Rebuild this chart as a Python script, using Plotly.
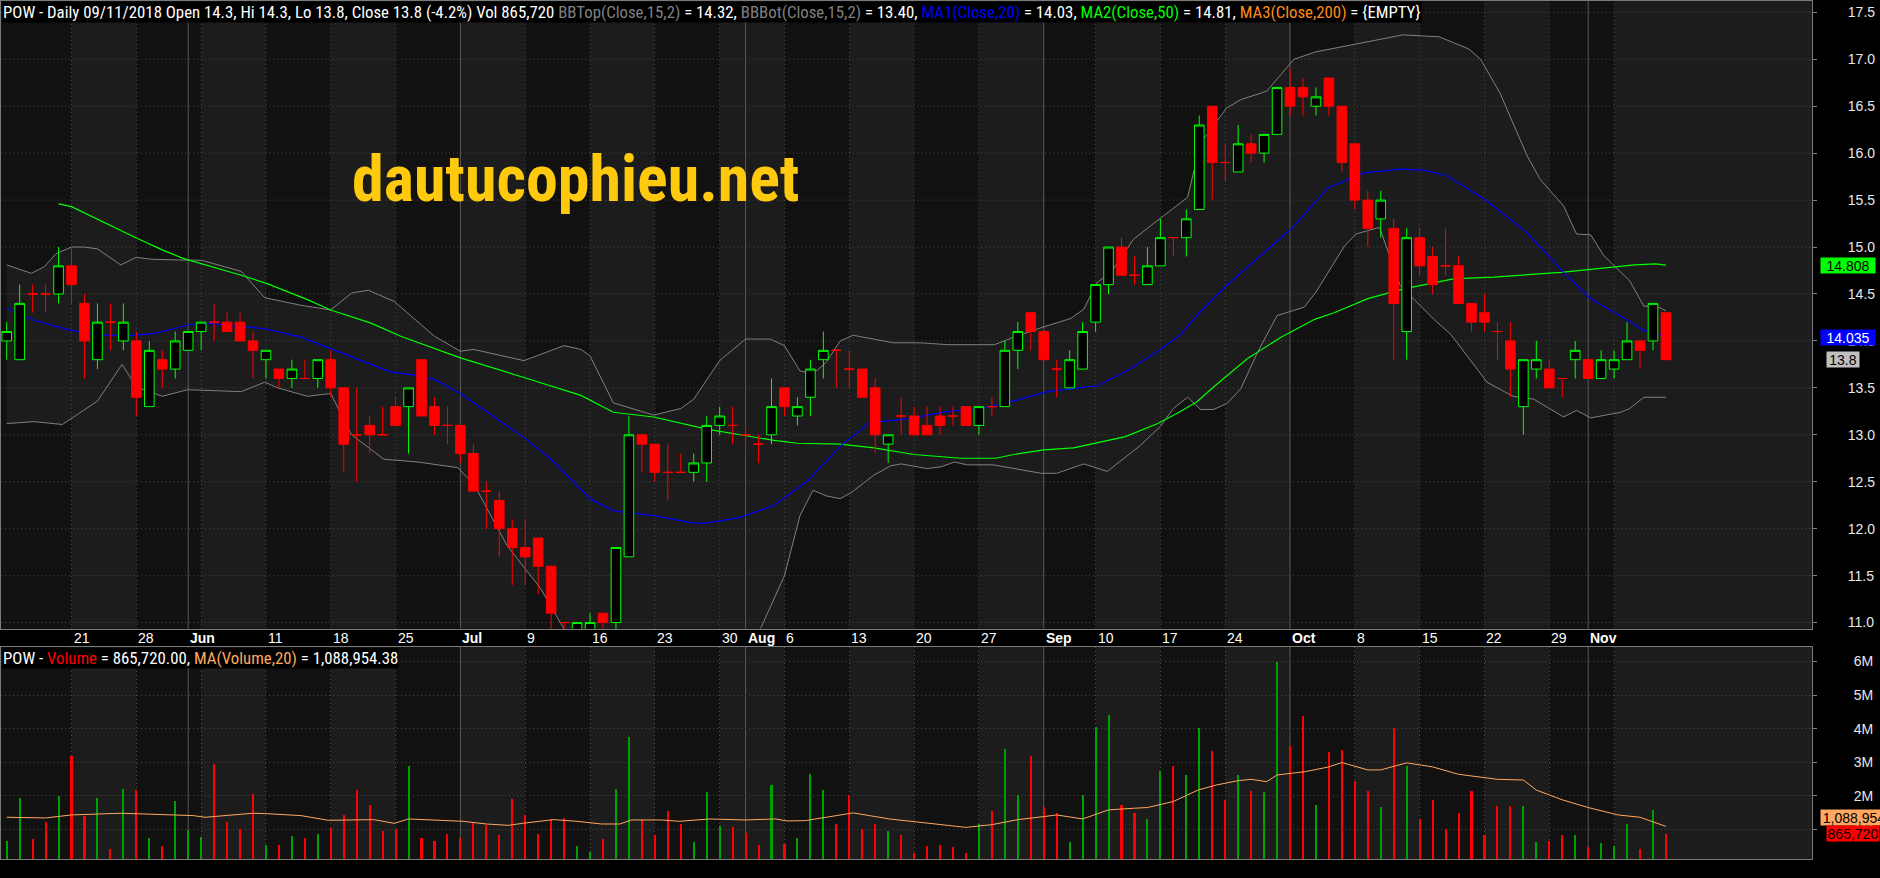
import plotly.graph_objects as go

# ---------------- data ----------------
symbol = "POW"
# candles: index 0 = 14 May 2018 ... index 128 = 09 Nov 2018 (trading days)
opens = [14.0, 13.8, 14.5, 14.5, 14.5, 14.8, 14.4, 13.8, 14.2, 14.0,
         14.0, 13.3, 13.8, 13.7, 13.9, 14.1, 14.2, 14.2, 14.2, 14.0,
         13.8, 13.7, 13.6, 13.6, 13.6, 13.8, 13.5, 13.0, 13.1, 13.0,
         13.3, 13.3, 13.8, 13.3, 13.1, 13.1, 12.8, 12.4, 12.3, 12.0,
         11.8, 11.9, 11.6, 11.0, 10.9, 10.9, 11.1, 11.0, 11.7, 13.0,
         12.9, 12.6, 12.6, 12.6, 12.7, 13.1, 13.1, 13.0, 12.9, 13.0,
         13.5, 13.2, 13.4, 13.8, 13.9, 13.7, 13.7, 13.5, 12.9, 13.2,
         13.2, 13.1, 13.2, 13.2, 13.3, 13.1, 13.3, 13.3, 13.9, 14.3,
         14.1, 13.7, 13.5, 13.7, 14.2, 14.6, 15.0, 14.7, 14.6, 14.8,
         15.1, 15.1, 15.4, 16.5, 15.9, 15.8, 16.1, 16.0, 16.2, 16.7,
         16.7, 16.5, 16.8, 16.5, 16.1, 15.5, 15.3, 15.2, 14.1, 15.1,
         14.9, 14.8, 14.8, 14.4, 14.3, 14.1, 14.0, 13.3, 13.7, 13.7,
         13.6, 13.8, 13.8, 13.6, 13.7, 13.8, 14.0, 14.0, 14.3]
highs = [14.2, 14.6, 14.6, 14.6, 15.0, 15.0, 14.5, 14.4, 14.4, 14.4,
         14.1, 14.0, 13.9, 14.1, 14.1, 14.2, 14.4, 14.3, 14.3, 14.1,
         13.9, 13.7, 13.8, 13.8, 13.8, 13.9, 13.5, 13.5, 13.2, 13.3,
         13.4, 13.5, 13.8, 13.4, 13.3, 13.1, 12.9, 12.5, 12.4, 12.1,
         12.1, 11.9, 11.6, 11.0, 11.0, 11.1, 11.1, 11.8, 13.2, 13.0,
         12.9, 12.9, 12.8, 12.8, 13.2, 13.3, 13.3, 13.1, 13.0, 13.6,
         13.5, 13.4, 13.8, 14.1, 13.9, 13.9, 13.7, 13.6, 13.0, 13.4,
         13.3, 13.3, 13.3, 13.3, 13.3, 13.3, 13.4, 14.0, 14.2, 14.3,
         14.1, 13.8, 13.9, 14.2, 14.6, 15.0, 15.1, 14.9, 15.0, 15.3,
         15.1, 15.4, 16.4, 16.5, 16.1, 16.3, 16.2, 16.2, 16.7, 16.9,
         16.8, 16.7, 16.8, 16.5, 16.1, 15.6, 15.6, 15.3, 15.2, 15.2,
         15.0, 15.2, 14.9, 14.4, 14.5, 14.2, 14.2, 13.8, 14.0, 13.8,
         13.6, 14.0, 13.8, 13.9, 13.9, 14.2, 14.0, 14.4, 14.3]
lows = [13.8, 13.8, 14.3, 14.3, 14.4, 14.4, 13.6, 13.7, 13.9, 13.9,
        13.2, 13.3, 13.5, 13.6, 13.9, 13.9, 14.0, 14.1, 14.0, 13.6,
        13.6, 13.5, 13.5, 13.6, 13.5, 13.4, 12.6, 12.5, 12.8, 13.0,
        13.1, 12.8, 13.2, 13.0, 12.9, 12.7, 12.4, 12.0, 11.7, 11.4,
        11.4, 11.3, 10.9, 10.9, 10.9, 10.9, 10.9, 10.9, 11.7, 12.6,
        12.5, 12.3, 12.6, 12.5, 12.5, 13.0, 12.9, 12.8, 12.7, 12.9,
        13.2, 13.1, 13.2, 13.6, 13.5, 13.5, 13.4, 12.8, 12.7, 13.0,
        13.0, 13.0, 13.0, 13.1, 13.1, 13.0, 13.2, 13.3, 13.7, 13.9,
        13.8, 13.4, 13.5, 13.7, 14.1, 14.5, 14.7, 14.6, 14.6, 14.8,
        14.9, 14.9, 15.4, 15.5, 15.7, 15.8, 15.9, 15.9, 16.2, 16.4,
        16.4, 16.4, 16.4, 15.8, 15.4, 15.0, 15.1, 13.8, 13.8, 14.7,
        14.5, 14.7, 14.4, 14.1, 14.1, 13.8, 13.4, 13.0, 13.6, 13.5,
        13.4, 13.6, 13.6, 13.6, 13.6, 13.8, 13.7, 13.9, 13.8]
closes = [14.1, 14.4, 14.5, 14.5, 14.8, 14.6, 14.0, 14.2, 14.2, 14.2,
          13.4, 13.9, 13.7, 14.0, 14.1, 14.2, 14.2, 14.1, 14.0, 13.9,
          13.9, 13.6, 13.7, 13.6, 13.8, 13.5, 12.9, 13.0, 13.0, 13.0,
          13.1, 13.5, 13.2, 13.1, 13.1, 12.8, 12.4, 12.4, 12.0, 11.8,
          11.7, 11.6, 11.1, 11.0, 11.0, 11.0, 11.0, 11.8, 13.0, 12.9,
          12.6, 12.6, 12.6, 12.7, 13.1, 13.2, 13.1, 13.0, 12.9, 13.3,
          13.3, 13.3, 13.7, 13.9, 13.9, 13.7, 13.4, 13.0, 13.0, 13.2,
          13.0, 13.0, 13.1, 13.2, 13.1, 13.3, 13.3, 13.9, 14.1, 14.1,
          13.8, 13.7, 13.8, 14.1, 14.6, 15.0, 14.7, 14.7, 14.8, 15.1,
          15.1, 15.3, 16.3, 15.9, 15.9, 16.1, 16.0, 16.2, 16.7, 16.5,
          16.6, 16.6, 16.5, 15.9, 15.5, 15.2, 15.5, 14.4, 15.1, 14.8,
          14.6, 14.8, 14.4, 14.2, 14.2, 14.1, 13.7, 13.8, 13.8, 13.5,
          13.6, 13.9, 13.6, 13.8, 13.8, 14.0, 13.9, 14.4, 13.8]
# volume, millions of shares
volumes = [0.66, 1.93, 0.72, 1.22, 1.99, 3.18, 1.41, 1.93, 0.43, 2.22,
           2.19, 0.74, 0.51, 1.85, 0.98, 0.78, 2.94, 1.22, 1.01, 2.05,
           0.54, 0.54, 0.80, 0.74, 0.86, 1.04, 1.42, 2.19, 1.72, 0.96,
           1.02, 2.88, 0.74, 0.65, 0.86, 0.74, 1.22, 1.13, 0.83, 1.90,
           1.43, 0.86, 1.31, 1.34, 0.51, 0.33, 0.71, 2.22, 3.77, 1.29,
           0.84, 1.55, 1.16, 0.62, 2.12, 1.10, 1.07, 0.90, 0.54, 2.34,
           0.57, 0.74, 2.65, 2.19, 1.16, 2.02, 1.01, 1.16, 0.95, 0.83,
           0.30, 0.51, 0.54, 0.48, 0.30, 1.16, 1.54, 3.41, 2.02, 3.20,
           1.66, 1.48, 0.62, 2.02, 4.06, 4.42, 1.72, 1.48, 1.31, 2.73,
           2.88, 2.64, 4.03, 3.35, 1.87, 2.64, 2.14, 2.11, 5.99, 3.50,
           4.39, 1.72, 3.32, 3.38, 2.46, 2.16, 1.66, 4.03, 2.88, 1.31,
           1.87, 1.01, 1.48, 2.14, 0.83, 1.69, 1.69, 1.69, 0.62, 0.65,
           0.83, 0.83, 0.48, 0.60, 0.51, 1.16, 0.42, 1.57, 0.86572]

# indicator lines, read at points along the bar index
ma20_x = [0, 2.1, 4.7, 7.3, 9.8, 11.4, 12.9, 14, 15.3, 17.8, 19.9, 22.7, 25.3, 28, 29.6, 31.7,
          33, 35, 37.3, 39.9, 42, 45, 46.8, 49.9, 53, 54, 56.6, 59.2, 61.8, 64.3, 66.6, 69.5,
          72.6, 75.2, 77.4, 80.3, 83.3, 84.1, 86.4, 88.7, 90.5, 92, 94.1, 96.7, 99.3, 101.9,
          104.7, 107.5, 109.3, 111.1, 114.2, 117.3, 120.1, 122.2, 124.2, 126.3, 127, 128]
ma20_y = [14.35, 14.22, 14.12, 14.06, 14.06, 14.08, 14.13, 14.17, 14.19, 14.16, 14.13, 14.04,
          13.90, 13.75, 13.67, 13.63, 13.59, 13.44, 13.22, 12.97, 12.74, 12.32, 12.19, 12.14,
          12.06, 12.06, 12.12, 12.25, 12.51, 12.88, 13.13, 13.17, 13.25, 13.28, 13.35, 13.46,
          13.51, 13.52, 13.68, 13.88, 14.06, 14.30, 14.59, 14.91, 15.22, 15.63, 15.79, 15.83,
          15.82, 15.76, 15.49, 15.15, 14.73, 14.45, 14.29, 14.11, 14.10, 14.0349]
ma50_x = [4, 5, 9.8, 12, 13.6, 18.1, 20.1, 23.2, 25, 28.1, 30.4, 33.5, 35, 39.9, 44.3, 46.8,
          49.9, 54, 59.2, 61, 64.3, 66.9, 70, 73.6, 76.3, 77.7, 80, 82.3, 84, 86.3, 88.8, 90.3,
          91.8, 93.1, 95.7, 98.3, 100.9, 102.4, 105, 107.6, 111.6, 114.7, 119.9, 123, 125.6,
          127.2, 128]
ma50_y = [15.46, 15.43, 15.11, 14.97, 14.88, 14.70, 14.61, 14.44, 14.33, 14.19, 14.05, 13.90,
          13.82, 13.61, 13.42, 13.24, 13.19, 13.06, 12.94, 12.91, 12.90, 12.86, 12.79, 12.75,
          12.75, 12.79, 12.84, 12.86, 12.91, 12.98, 13.12, 13.23, 13.35, 13.51, 13.81, 14.04,
          14.23, 14.30, 14.45, 14.55, 14.66, 14.68, 14.73, 14.77, 14.81, 14.82, 14.808]
bbtop_x = [0, 1.9, 2.9, 3.8, 5, 6, 7, 8.8, 10, 11.2, 13.95, 15, 18.1, 19.9, 22.7, 25, 26.6,
           27.9, 29.9, 33, 35, 36, 39.9, 43, 44.3, 45, 46.8, 49.9, 52, 53, 55, 57, 58.9, 60,
           61.2, 62.2, 63.2, 64.3, 65.3, 68.4, 70.5, 72.6, 76.2, 77.7, 80, 82.1, 83.1, 84.1,
           85.2, 86.9, 89.3, 91.1, 92.1, 94.1, 95.2, 97.2, 99.3, 101, 104, 107.7, 110.5, 112.8,
           113.7, 115.2, 116.2, 117.3, 118.3, 120.1, 121.1, 122.2, 123.2, 125.2, 126.3, 127.3,
           128]
bbtop_y = [14.81, 14.72, 14.79, 14.93, 15.00, 15.00, 14.98, 14.81, 14.89, 14.87, 14.86, 14.86,
           14.74, 14.46, 14.38, 14.33, 14.51, 14.54, 14.42, 14.05, 13.89, 13.91, 13.79, 13.95,
           13.91, 13.84, 13.34, 13.21, 13.28, 13.38, 13.79, 14.02, 14.02, 13.95, 13.68, 13.65,
           13.77, 14.00, 14.06, 13.98, 13.98, 13.96, 13.96, 14.04, 14.15, 14.24, 14.34, 14.62,
           14.73, 15.08, 15.34, 15.53, 16.11, 16.48, 16.57, 16.66, 17.00, 17.08, 17.16, 17.26,
           17.24, 17.11, 17.00, 16.64, 16.32, 15.97, 15.72, 15.44, 15.14, 15.13, 14.91, 14.64,
           14.37, 14.37, 14.32]
bbbot_x = [0, 2.1, 4.3, 7, 8.9, 10, 12, 13.95, 18.1, 19.9, 20.9, 23.2, 25, 26.6, 29.1, 31.7,
           34.8, 36.1, 38.6, 41.2, 42.7, 44, 47, 50, 54, 56, 58.2, 59.2, 60, 61.2, 62.2, 63.2,
           64.3, 65.1, 66.9, 68.2, 69, 71, 72.1, 73.1, 74.1, 76.1, 78.2, 79.8, 81, 83.1, 84.9,
           86.2, 87.4, 89, 90, 91.1, 92.1, 93.1, 94.1, 95.2, 96.5, 98, 99.1, 100.1, 101, 103.2,
           104.1, 105.9, 107.5, 110.1, 111.4, 114.2, 116.2, 117.8, 120.1, 121.1, 122.2, 124.5,
           125.2, 126.3, 128]
bbbot_y = [13.12, 13.14, 13.11, 13.36, 13.75, 13.51, 13.41, 13.48, 13.46, 13.56, 13.50, 13.41,
           13.44, 13.00, 12.74, 12.71, 12.65, 12.46, 11.82, 11.36, 11.00, 10.70, 10.30, 10.10,
           10.20, 10.50, 10.95, 11.25, 11.50, 12.14, 12.41, 12.35, 12.32, 12.38, 12.57, 12.67,
           12.69, 12.64, 12.66, 12.71, 12.68, 12.68, 12.63, 12.59, 12.59, 12.69, 12.61, 12.75,
           12.88, 13.09, 13.28, 13.40, 13.27, 13.27, 13.33, 13.49, 13.88, 14.27, 14.32, 14.36,
           14.52, 15.01, 15.14, 15.21, 14.59, 14.23, 14.07, 13.56, 13.41, 13.38, 13.19, 13.26,
           13.18, 13.24, 13.28, 13.40, 13.40]
volma_x = [0, 3, 5, 8.8, 14.4, 15.3, 19, 19.9, 22.7, 24.8, 28.3, 29.9, 31, 35.2, 37, 38.7, 39.8,
           42.2, 44, 45.9, 47.3, 48.2, 50.5, 51.9, 54.2, 57, 59.3, 60.2, 61.6, 63.4, 65.3, 68.1,
           69.9, 72, 74, 76, 78, 80, 81, 83, 85, 87, 88, 90, 91.9, 93.3, 95, 96, 97.2, 98, 100.2,
           102, 103, 105, 106, 108, 110, 112, 115, 117, 118, 120, 122, 124.3, 126, 128]
volma_y = [1.36, 1.34, 1.43, 1.48, 1.41, 1.36, 1.48, 1.47, 1.41, 1.27, 1.29, 1.18, 1.31, 1.24,
           1.16, 1.12, 1.18, 1.29, 1.24, 1.16, 1.16, 1.28, 1.28, 1.24, 1.31, 1.28, 1.31, 1.25,
           1.26, 1.38, 1.49, 1.31, 1.23, 1.14, 1.06, 1.14, 1.29, 1.38, 1.43, 1.31, 1.58, 1.63,
           1.65, 1.83, 2.17, 2.32, 2.45, 2.49, 2.42, 2.62, 2.72, 2.86, 2.99, 2.77, 2.77, 2.98,
           2.86, 2.64, 2.49, 2.47, 2.17, 1.88, 1.65, 1.43, 1.36, 1.08895438]

# date axis: gridline positions (bar index), labels, month starts
grid_idx = [5, 10, 14, 15, 20, 25, 30, 35, 40, 45, 50, 55, 57, 60, 65, 70, 75, 80, 84, 89,
            94, 99, 104, 109, 114, 119, 122, 124]
month_idx = [14, 35, 57, 80, 99, 122]
label_idx = [5, 10, 14, 20, 25, 30, 35, 40, 45, 50, 55, 57, 60, 65, 70, 75, 80, 84, 89, 94,
             99, 104, 109, 114, 119, 122]
label_txt = ["21", "28", "Jun", "11", "18", "25", "Jul", "9", "16", "23", "30", "Aug", "6",
             "13", "20", "27", "Sep", "10", "17", "24", "Oct", "8", "15", "22", "29", "Nov"]
week_start_idx = [5, 10, 15, 20, 25, 30, 35, 40, 45, 50, 55, 60, 65, 70, 75, 80, 84, 89, 94,
                  99, 104, 109, 114, 119, 124]
price_ticks = [11.0, 11.5, 12.0, 12.5, 13.0, 13.5, 14.0, 14.5, 15.0, 15.5, 16.0, 16.5, 17.0, 17.5]
vol_ticks = [1, 2, 3, 4, 5, 6]
vol_ticktext = ["1M", "2M", "3M", "4M", "5M", "6M"]

# ---------------- layout geometry ----------------
W, H = 1880, 878
X_MIN, X_MAX = -0.44, 139.27
P_MIN, P_MAX = 10.933, 17.621
V_MIN, V_MAX = 0.116, 6.436
XDOM = [0, 1812 / W]


def pyf(px):
    return 1 - px / H


PRICE_DOM = [pyf(630), 1.0]
VOL_DOM = [pyf(861), pyf(648)]

NARROW = "Roboto Condensed, DejaVu Sans Condensed, sans-serif"
SANS = "Liberation Sans, Arial, sans-serif"
DARK = "#111111"
LIGHT = "#1c1c1c"
GRID = "#4a4a4a"
MONTH = "#5a5a5a"
BORDER = "#7a7a7a"

fig = go.Figure()

# Bollinger cloud (base subplot)
fig.add_trace(go.Scatter(x=bbbot_x, y=bbbot_y, mode="lines", line=dict(width=0),
                         hoverinfo="skip", showlegend=False, xaxis="x", yaxis="y"))
fig.add_trace(go.Scatter(x=bbtop_x, y=bbtop_y, mode="lines", line=dict(width=0),
                         fill="tonexty", fillcolor=LIGHT,
                         hoverinfo="skip", showlegend=False, xaxis="x", yaxis="y"))

# price grid (drawn above the cloud)
gx, gy = [], []
for p in price_ticks:
    gx += [X_MIN, X_MAX, None]
    gy += [p, p, None]
for g in grid_idx:
    if g in month_idx:
        continue
    gx += [g, g, None]
    gy += [P_MIN, P_MAX, None]
fig.add_trace(go.Scatter(x=gx, y=gy, mode="lines", line=dict(color=GRID, width=1, dash="1px,3px"),
                         hoverinfo="skip", showlegend=False, xaxis="x", yaxis="y"))
mx, my = [], []
for g in month_idx:
    mx += [g, g, None]
    my += [P_MIN, P_MAX, None]
fig.add_trace(go.Scatter(x=mx, y=my, mode="lines", line=dict(color=MONTH, width=1),
                         hoverinfo="skip", showlegend=False, xaxis="x", yaxis="y"))

# indicator lines
fig.add_trace(go.Scatter(x=bbtop_x, y=bbtop_y, mode="lines", line=dict(color="#808080", width=1),
                         hoverinfo="skip", showlegend=False))
fig.add_trace(go.Scatter(x=bbbot_x, y=bbbot_y, mode="lines", line=dict(color="#808080", width=1),
                         hoverinfo="skip", showlegend=False))
fig.add_trace(go.Scatter(x=ma50_x, y=ma50_y, mode="lines", line=dict(color="#00ff00", width=1.2),
                         hoverinfo="skip", showlegend=False))
fig.add_trace(go.Scatter(x=ma20_x, y=ma20_y, mode="lines", line=dict(color="#0000ff", width=1.2),
                         hoverinfo="skip", showlegend=False))

# candles on an overlaying subplot so they sit above the cloud and grid
idx = list(range(len(closes)))
up = [i for i in idx if closes[i] > opens[i]]
dn = [i for i in idx if closes[i] <= opens[i]]
up_style = dict(line=dict(color="#00ff00", width=1), fillcolor="#000000")
dn_style = dict(line=dict(color="#ff0000", width=1), fillcolor="#ff0000")
fig.add_trace(go.Candlestick(x=up, open=[opens[i] for i in up], high=[highs[i] for i in up],
                             low=[lows[i] for i in up], close=[closes[i] for i in up],
                             increasing=up_style, decreasing=up_style, whiskerwidth=0,
                             hoverinfo="skip", showlegend=False, xaxis="x3", yaxis="y3"))
fig.add_trace(go.Candlestick(x=dn, open=[opens[i] for i in dn], high=[highs[i] for i in dn],
                             low=[lows[i] for i in dn], close=[closes[i] for i in dn],
                             increasing=dn_style, decreasing=dn_style, whiskerwidth=0,
                             hoverinfo="skip", showlegend=False, xaxis="x3", yaxis="y3"))

# volume
vcol = ["#00a000" if closes[i] > opens[i] else "#ff0000" for i in idx]
fig.add_trace(go.Bar(x=idx, y=volumes, marker=dict(color=vcol, line=dict(width=0)), width=0.16,
                     hoverinfo="skip", showlegend=False, xaxis="x2", yaxis="y2"))
fig.add_trace(go.Scatter(x=volma_x, y=volma_y, mode="lines", line=dict(color="#ffa860", width=1),
                         hoverinfo="skip", showlegend=False, xaxis="x2", yaxis="y2"))

# pointer triangles of the right-edge value labels
fig.add_trace(go.Scatter(x=[X_MAX + 0.55], y=[closes[-1]], mode="markers",
                         marker=dict(symbol="triangle-left", size=15, color="#c0c0c0"),
                         cliponaxis=False, hoverinfo="skip", showlegend=False,
                         xaxis="x", yaxis="y"))
fig.add_trace(go.Scatter(x=[X_MAX + 0.55], y=[volumes[-1]], mode="markers",
                         marker=dict(symbol="triangle-left", size=15, color="#ff0000"),
                         cliponaxis=False, hoverinfo="skip", showlegend=False,
                         xaxis="x2", yaxis="y2"))

# ---------------- shapes: alternating week shading, month lines in volume pane ----------------
shapes = []
bounds = [X_MIN] + week_start_idx + [X_MAX]
for k in range(len(bounds) - 1):
    if k % 2 == 1:
        for xr, yref in (("x", "y domain"), ("x2", "y2 domain")):
            shapes.append(dict(type="rect", xref=xr, yref=yref, x0=bounds[k], x1=bounds[k + 1],
                               y0=0, y1=1, fillcolor=LIGHT, line=dict(width=0), layer="below"))
for g in month_idx:
    shapes.append(dict(type="line", xref="x2", yref="y2 domain", x0=g, x1=g, y0=0, y1=1,
                       line=dict(color=MONTH, width=1), layer="below"))

# ---------------- annotations ----------------
ann = []
last = len(closes) - 1
chg = (closes[last] / closes[last - 1] - 1) * 100
hdr = (f"{symbol} - Daily 09/11/2018 Open {opens[last]:.1f}, Hi {highs[last]:.1f}, "
       f"Lo {lows[last]:.1f}, Close {closes[last]:.1f} ({chg:.1f}%) Vol {volumes[last]*1e6:,.0f} "
       f"<span style='color:#808080'>BBTop(Close,15,2)</span> = {bbtop_y[-1]:.2f}, "
       f"<span style='color:#808080'>BBBot(Close,15,2)</span> = {bbbot_y[-1]:.2f}, "
       f"<span style='color:#0000ff'>MA1(Close,20)</span> = {ma20_y[-1]:.2f}, "
       f"<span style='color:#00ff00'>MA2(Close,50)</span> = {ma50_y[-1]:.2f}, "
       f"<span style='color:#ff8c1a'>MA3(Close,200)</span> = {{EMPTY}}")
ann.append(dict(text=hdr, x=0, y=1, xref="paper", yref="paper", xanchor="left", yanchor="top",
                showarrow=False, bgcolor="#000000", borderpad=0, xshift=1,
                font=dict(family=NARROW, size=16.8, color="#ffffff")))
vhdr = (f"{symbol} - <span style='color:#ff0000'>Volume</span> = {volumes[last]*1e6:,.2f}, "
        f"<span style='color:#ffa860'>MA(Volume,20)</span> = {volma_y[-1]*1e6:,.2f}")
ann.append(dict(text=vhdr, x=0, y=VOL_DOM[1], xref="paper", yref="paper", xanchor="left",
                yanchor="top", showarrow=False, bgcolor="#000000", borderpad=0, xshift=1,
                font=dict(family=NARROW, size=16.8, color="#ffffff")))

# watermark
ann.append(dict(text="<b>dautucophieu.net</b>", x=349 / W, y=pyf(179), xref="paper", yref="paper",
                xanchor="left", yanchor="middle", showarrow=False,
                font=dict(family=NARROW, size=64, color="#ffc90e")))

# date labels
for i, t in zip(label_idx, label_txt):
    txt = f"<b>{t}</b>" if i in month_idx else t
    ann.append(dict(text=txt, x=i, y=pyf(639.5), xref="x", yref="paper", xanchor="left",
                    yanchor="middle", showarrow=False, xshift=0,
                    font=dict(family=SANS, size=14, color="#ffffff")))


def val_label(text, y, yref, bg, fg, x_px, w, yshift=0):
    return dict(text=text, x=x_px / W, y=y, xref="paper", yref=yref, xanchor="left",
                yanchor="middle", showarrow=False, bgcolor=bg, width=w, height=15,
                borderpad=0, align="center", yshift=yshift,
                font=dict(family=SANS, size=14, color=fg))


ann.append(val_label(f"{ma50_y[-1]:.3f}", ma50_y[-1], "y", "#00ff00", "#000000", 1820, 54))
ann.append(val_label(f"{ma20_y[-1]:.3f}", ma20_y[-1], "y", "#0000ff", "#ffffff", 1820, 54))
ann.append(val_label(f"{closes[-1]:.1f}", closes[-1], "y", "#c0c0c0", "#000000", 1826, 32))
ann.append(val_label(f"{volma_y[-1]*1e6:,.0f}", volma_y[-1], "y2", "#ffa860", "#000000", 1820, 66,
                     yshift=9))
ann.append(val_label(f"{volumes[-1]*1e6:,.0f}", volumes[-1], "y2", "#ff0000", "#000000", 1826, 52))

axis_common = dict(showgrid=False, zeroline=False, showline=True, mirror=True, linecolor=BORDER,
                   linewidth=1, fixedrange=True)

fig.update_layout(
    width=W, height=H, margin=dict(l=0, r=0, t=0, b=0),
    paper_bgcolor="#000000", plot_bgcolor=DARK,
    showlegend=False, boxgap=0.14, boxgroupgap=0.14, bargap=0,
    xaxis=dict(domain=XDOM, range=[X_MIN, X_MAX], anchor="y", showticklabels=False, ticks="",
               rangeslider=dict(visible=False), **axis_common),
    yaxis=dict(domain=PRICE_DOM, range=[P_MIN, P_MAX], anchor="x", side="right",
               tickvals=price_ticks, ticktext=[f"{v:.1f}" for v in price_ticks],
               ticks="outside", ticklen=4, tickcolor="#808080", ticklabelstandoff=28,
               tickfont=dict(family=SANS, size=14, color="#e8e8e8"), **axis_common),
    xaxis3=dict(range=[X_MIN, X_MAX], overlaying="x", anchor="y3", visible=False,
                fixedrange=True, rangeslider=dict(visible=False)),
    yaxis3=dict(range=[P_MIN, P_MAX], overlaying="y", anchor="x3", visible=False,
                fixedrange=True),
    xaxis2=dict(domain=XDOM, range=[X_MIN, X_MAX], anchor="y2", showticklabels=False, ticks="",
                tickvals=[g for g in grid_idx if g not in month_idx],
                rangeslider=dict(visible=False),
                **{**axis_common, "showgrid": True}, griddash="1px,3px", gridcolor=GRID),
    yaxis2=dict(domain=VOL_DOM, range=[V_MIN, V_MAX], anchor="x2", side="right",
                tickvals=vol_ticks, ticktext=vol_ticktext, ticks="outside", ticklen=4,
                tickcolor="#808080", ticklabelstandoff=34,
                tickfont=dict(family=SANS, size=14, color="#e8e8e8"),
                **{**axis_common, "showgrid": True}, griddash="1px,3px", gridcolor=GRID),
    shapes=shapes, annotations=ann,
)

fig.write_html("out.html")
